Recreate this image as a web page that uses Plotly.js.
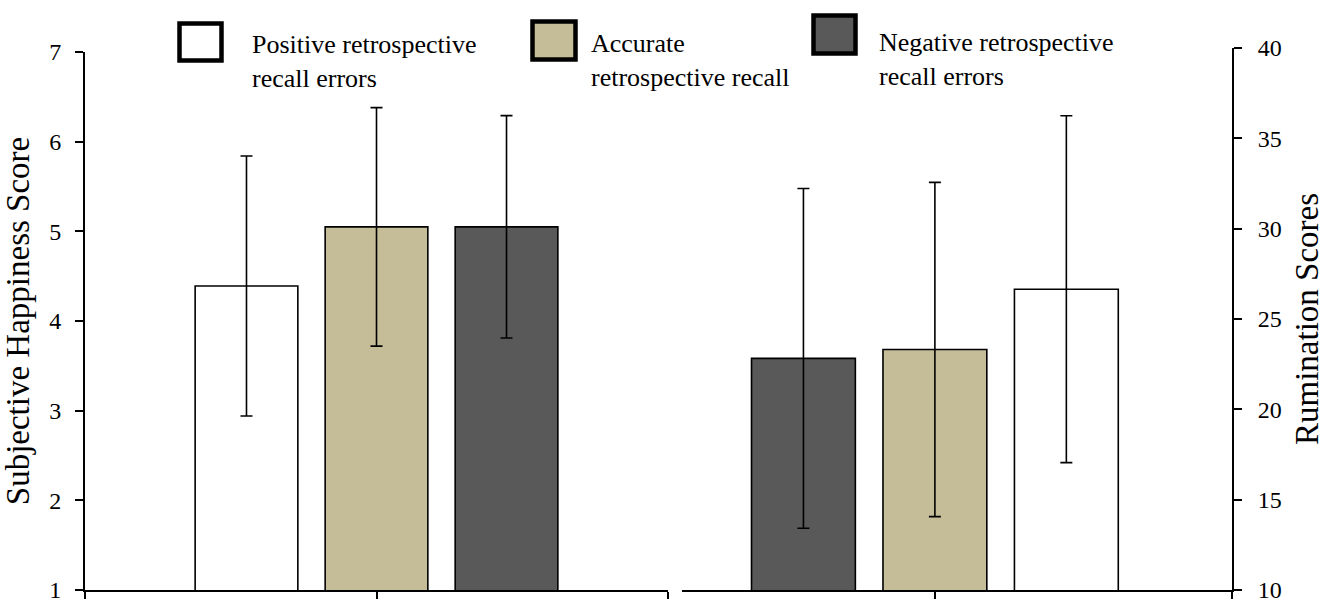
<!DOCTYPE html>
<html>
<head>
<meta charset="utf-8">
<script src="https://cdn.plot.ly/plotly-3.0.1.min.js"></script>
<style>html,body{margin:0;padding:0;background:#fff;}#chart{width:1335px;height:603px;}</style>
</head>
<body>
<div id="chart"></div>
<script>
// ---- data ----
const groupNames = ['Positive retrospective recall errors', 'Accurate retrospective recall', 'Negative retrospective recall errors'];
const legendLabels = ['Positive retrospective<br>recall errors', 'Accurate<br>retrospective recall', 'Negative retrospective<br>recall errors'];
const groupColors = ['#FFFFFF', '#C4BD97', '#595959'];
const happinessCategory = ['Subjective Happiness'];
const ruminationCategory = ['Rumination'];
const happinessMeans = [4.39, 5.05, 5.05];
const happinessErrors = [1.45, 1.33, 1.24];
const ruminationMeans = [26.65, 23.31, 22.82];
const ruminationErrors = [9.6, 9.25, 9.4];
const ruminationOrder = [2, 1, 0]; // negative, accurate, positive on the right panel

const W = 1335, H = 603;
const FONT = '"Palatino Linotype", "Book Antiqua", Palatino, "Liberation Serif", serif';

const traces = [];
groupNames.forEach((name, i) => {
  traces.push({
    type: 'bar', name: name, x: happinessCategory, y: [happinessMeans[i]],
    xaxis: 'x', yaxis: 'y', showlegend: false,
    marker: {color: groupColors[i], line: {color: '#000', width: 1.6}},
    error_y: {type: 'data', array: [happinessErrors[i]], color: '#000', thickness: 1.6, width: 6},
    hoverinfo: 'name+y'
  });
});
ruminationOrder.forEach(i => {
  traces.push({
    type: 'bar', name: groupNames[i], x: ruminationCategory, y: [ruminationMeans[i]],
    xaxis: 'x2', yaxis: 'y2', showlegend: false,
    marker: {color: groupColors[i], line: {color: '#000', width: 1.6}},
    error_y: {type: 'data', array: [ruminationErrors[i]], color: '#000', thickness: 1.6, width: 6},
    hoverinfo: 'name+y'
  });
});

// ---- custom legend (Excel-like, boxes + two-line labels) ----
const legendBoxes = [[179.5, 23.5, 221.5, 60.5], [532.5, 21.5, 575.5, 59.5], [813.5, 15.5, 855.5, 53.5]];
const legendTextX = [250, 589, 877];
const legendTextY = [62, 61, 59];
const shapes = legendBoxes.map((b, i) => ({
  type: 'rect', xref: 'paper', yref: 'paper',
  x0: b[0] / W, x1: b[2] / W, y0: 1 - b[3] / H, y1: 1 - b[1] / H,
  fillcolor: groupColors[i], line: {color: '#000', width: 4.5}, layer: 'above'
}));
const annotations = legendLabels.map((t, i) => ({
  text: t, xref: 'paper', yref: 'paper', x: legendTextX[i] / W, y: 1 - legendTextY[i] / H,
  xanchor: 'left', yanchor: 'middle', align: 'left', showarrow: false,
  font: {family: FONT, size: 26, color: '#000'}
}));

const axisCommon = {
  showgrid: false, zeroline: false, showline: true, linecolor: '#000', linewidth: 1.8,
  ticks: 'outside', tickcolor: '#000', tickwidth: 1.8, ticklabeloverflow: 'allow',
  tickfont: {family: FONT, size: 24, color: '#000'}
};

const layout = {
  width: W, height: H,
  margin: {l: 0, r: 0, t: 0, b: 0},
  paper_bgcolor: '#fff', plot_bgcolor: '#fff',
  barmode: 'group', bargap: 0.331, bargroupgap: 0.21,
  font: {family: FONT, color: '#000'},
  xaxis: Object.assign({}, axisCommon, {
    domain: [85 / W, 668 / W], anchor: 'y', type: 'category', range: [-0.5, 0.5],
    tickmode: 'array', tickvals: [-0.5, 0, 0.5], ticktext: ['', '', ''], ticklen: 7
  }),
  yaxis: Object.assign({}, axisCommon, {
    domain: [13 / H, 551 / H], anchor: 'x', range: [1, 7], dtick: 1, ticklen: 8, ticklabelstandoff: 9,
    title: {text: 'Subjective Happiness Score', font: {family: FONT, size: 33, color: '#000'}, standoff: 12}
  }),
  xaxis2: Object.assign({}, axisCommon, {
    domain: [682 / W, 1232 / W], anchor: 'y2', type: 'category', range: [-0.429, 0.504],
    tickmode: 'array', tickvals: [0, 0.504], ticktext: ['', ''], ticklen: 7
  }),
  yaxis2: Object.assign({}, axisCommon, {
    domain: [13 / H, 555 / H], anchor: 'x2', side: 'right', range: [10, 40], dtick: 5, ticklen: 8, ticklabelstandoff: 11,
    title: {text: 'Rumination Scores', font: {family: FONT, size: 33, color: '#000'}, standoff: 14}
  }),
  shapes: shapes,
  annotations: annotations
};

Plotly.newPlot('chart', traces, layout, {displayModeBar: false, responsive: false});
</script>
</body>
</html>
